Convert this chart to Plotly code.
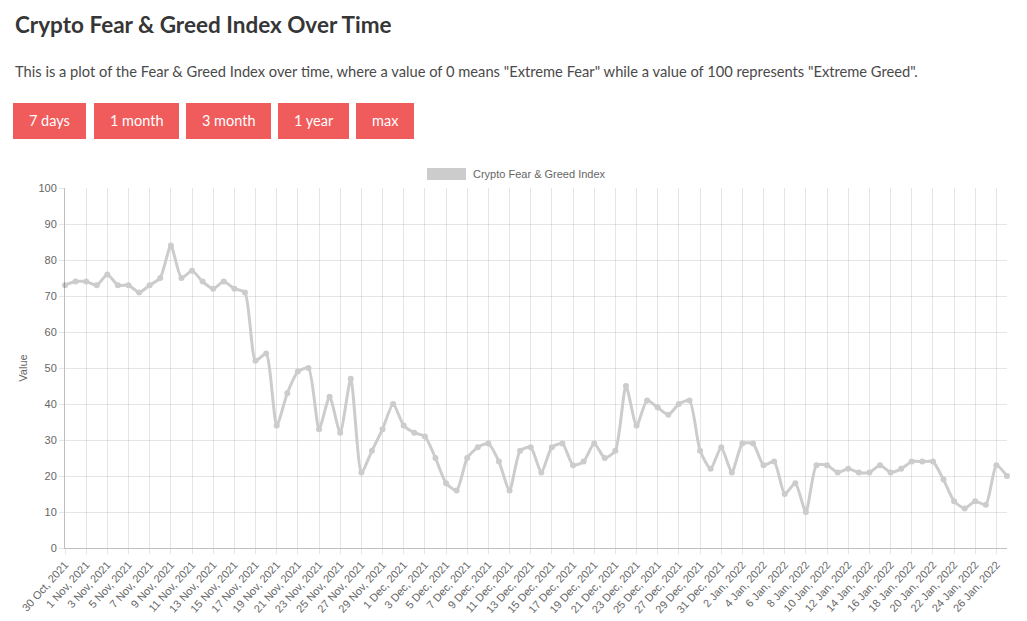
from datetime import date, timedelta

import plotly.graph_objects as go

W, H = 1027, 621

start = date(2021, 10, 30)
values = [
    73, 74,
    74, 73, 76, 73, 73, 71, 73, 75, 84, 75, 77, 74, 72, 74, 72, 71, 52, 54,
    34, 43, 49, 50, 33, 42, 32, 47, 21, 27, 33, 40,
    34, 32, 31, 25, 18, 16, 25, 28, 29, 24, 16, 27, 28, 21, 28, 29, 23, 24,
    29, 25, 27, 45, 34, 41, 39, 37, 40, 41, 27, 22, 28,
    21, 29, 29, 23, 24, 15, 18, 10, 23, 23, 21, 22, 21, 21, 23, 21, 22, 24,
    24, 24, 19, 13, 11, 13, 12, 23, 20,
]
dates = [start + timedelta(days=i) for i in range(len(values))]

buttons = ["7 days", "1 month", "3 month", "1 year", "max"]
button_edges = [(13, 86), (94, 179), (186, 271), (278, 349), (356, 414)]

LINE = "rgb(204,204,204)"
GRID = "rgba(0,0,0,0.1)"
RED = "#f05b5c"


def px(x):
    return x / W


def py(y):
    return 1 - y / H


fig = go.Figure()
fig.add_trace(
    go.Scatter(
        x=dates,
        y=values,
        mode="lines+markers",
        line=dict(color=LINE, width=3, shape="spline", smoothing=0.6),
        marker=dict(color=LINE, size=6),
        name="Crypto Fear & Greed Index",
        showlegend=False,
        cliponaxis=False,
    )
)

shapes = []
annotations = []

# page header
annotations.append(dict(
    x=px(13), y=py(25), xref="paper", yref="paper", xanchor="left", yanchor="middle",
    text="<b>Crypto Fear & Greed Index Over Time</b>", showarrow=False,
    font=dict(family="Lato, Open Sans", size=22.5, color="#363636"),
))
annotations.append(dict(
    x=px(13), y=py(71), xref="paper", yref="paper", xanchor="left", yanchor="middle",
    text='This is a plot of the Fear & Greed Index over time, where a value of 0 means "Extreme Fear" while a value of 100 represents "Extreme Greed".',
    showarrow=False, font=dict(family="Lato, Open Sans", size=14.7, color="#4a4a4a"),
))

# buttons
for label, (x0, x1) in zip(buttons, button_edges):
    shapes.append(dict(
        type="rect", xref="paper", yref="paper",
        x0=px(x0), x1=px(x1), y0=py(139), y1=py(103),
        fillcolor=RED, line=dict(width=0), layer="above",
    ))
    annotations.append(dict(
        x=px((x0 + x1) / 2), y=py(121), xref="paper", yref="paper",
        xanchor="center", yanchor="middle", text=label, showarrow=False,
        font=dict(family="Lato, Open Sans", size=14.5, color="white"),
    ))

# legend box
shapes.append(dict(
    type="rect", xref="paper", yref="paper",
    x0=px(427), x1=px(466), y0=py(180), y1=py(168),
    fillcolor=LINE, line=dict(width=0),
))
annotations.append(dict(
    x=px(471), y=py(174), xref="paper", yref="paper", xanchor="left", yanchor="middle",
    text="Crypto Fear & Greed Index", showarrow=False,
    font=dict(family="Liberation Sans, Arial", size=11, color="#666"),
))

fig.update_layout(
    width=W,
    height=H,
    margin=dict(l=0, r=0, t=0, b=0, autoexpand=False),
    paper_bgcolor="white",
    plot_bgcolor="white",
    shapes=shapes,
    annotations=annotations,
    font=dict(family="Liberation Sans, Arial", size=11, color="#666"),
    xaxis=dict(
        domain=[px(65), px(1007)],
        range=[dates[0], dates[-1]],
        type="date",
        tick0=dates[0],
        dtick=2 * 86400000,
        tickformat="%-d %b, %Y",
        tickangle=-48,
        showgrid=True,
        gridcolor=GRID,
        ticks="outside",
        ticklen=5,
        tickcolor=GRID,
        showline=True,
        linecolor="rgba(0,0,0,0.25)",
        zeroline=False,
        automargin=False,
    ),
    yaxis=dict(
        domain=[py(548), py(188)],
        range=[0, 100],
        dtick=10,
        showgrid=True,
        gridcolor=GRID,
        ticks="outside",
        ticklen=5,
        tickcolor=GRID,
        showline=True,
        linecolor="rgba(0,0,0,0.25)",
        zeroline=False,
        automargin=False,
        title=dict(text="Value", standoff=8, font=dict(size=11, color="#666")),
    ),
)

# the page body has an 8px default margin; remove it so the figure sits at 0,0
fig.write_html(
    "out.html",
    config={"displayModeBar": False},
    post_script="document.body.style.margin='0';document.body.style.overflow='hidden';",
)
